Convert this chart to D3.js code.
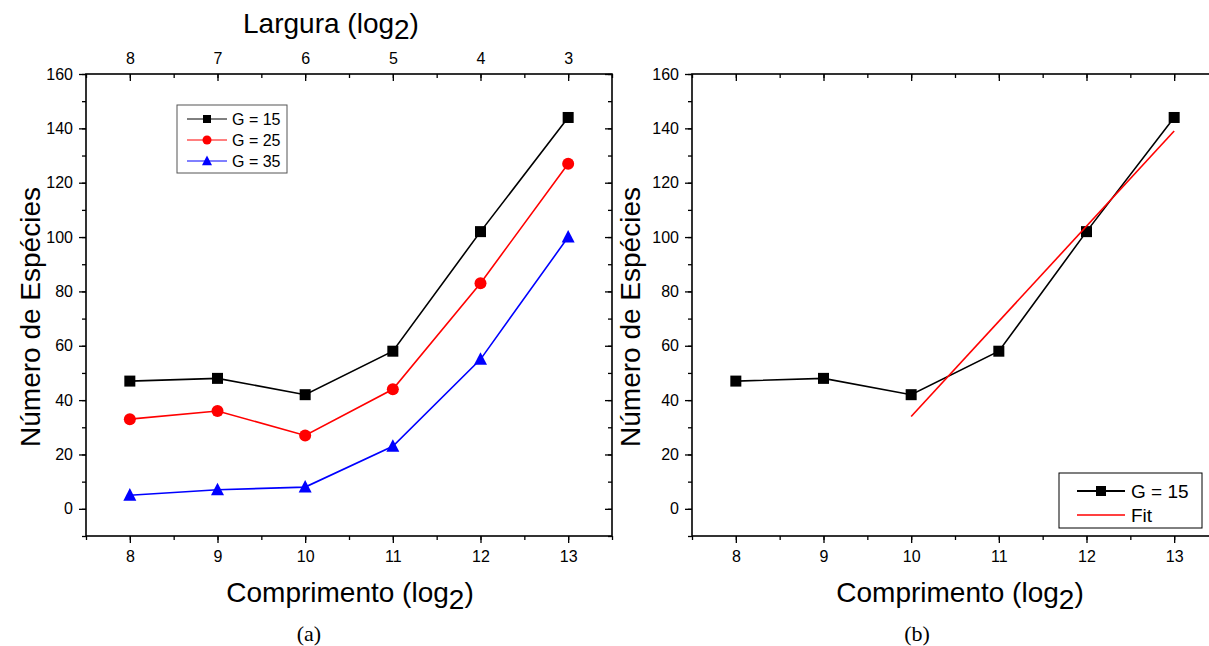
<!DOCTYPE html>
<html>
<head>
<meta charset="utf-8">
<script src="https://cdn.jsdelivr.net/npm/d3@7"></script>
<style>
  body { margin: 0; background: #fff; }
  text { font-family: "Liberation Sans", Arial, sans-serif; fill: #000; }
  .serif { font-family: "Liberation Serif", "Times New Roman", serif; }
</style>
</head>
<body>
<div id="chart"></div>
<script>
// Número de espécies vs comprimento / largura

const WIDTH = 1209
const HEIGHT = 646

const comprimento = [8, 9, 10, 11, 12, 13]
const largura = [8, 7, 6, 5, 4, 3]
const g15 = [47, 48, 42, 58, 102, 144]
const g25 = [33, 36, 27, 44, 83, 127]
const g35 = [5, 7, 8, 23, 55, 100]
const fitX = [10, 13]
const fitY = [34, 139]
const yTicks = [0, 20, 40, 60, 80, 100, 120, 140, 160]

const series = [
  { name: "G = 15", values: g15, color: "#000000", shape: "square" },
  { name: "G = 25", values: g25, color: "#ff0000", shape: "circle" },
  { name: "G = 35", values: g35, color: "#0000ff", shape: "triangle" }
]

const SVG = d3.select("#chart")
  .append("svg")
  .attr("width", WIDTH)
  .attr("height", HEIGHT)

const TOP = 74
const BOT = 536

const yScale = d3.scaleLinear().domain([-10, 160]).range([BOT, TOP])
const xLeft = d3.scaleLinear().domain([7.5, 13.5]).range([86, 612])
const xRight = d3.scaleLinear().domain([7.5, 13.5]).range([692, 1218])

const halfTicks = d3.range(7.5, 13.51, 0.5)
const minorY = d3.range(-10, 161, 10)

function marker(g, shape, color, x, y, size) {
  if (shape == "square") {
    g.append("rect")
      .attr("x", x - size / 2).attr("y", y - size / 2)
      .attr("width", size).attr("height", size)
      .attr("fill", color)
  } else if (shape == "circle") {
    g.append("circle")
      .attr("cx", x).attr("cy", y).attr("r", size / 2 + 0.5)
      .attr("fill", color)
  } else {
    const s = size + 2
    g.append("path")
      .attr("d", `M${x},${y - s * 0.55} L${x + s / 2},${y + s * 0.42} L${x - s / 2},${y + s * 0.42} Z`)
      .attr("fill", color)
  }
}

function drawAxes(g, x, showTopLabels) {
  const [x0, x1] = x.range()

  // baixo: ticks para fora
  g.append("g")
    .attr("transform", `translate(0, ${BOT})`)
    .call(d3.axisBottom(x).tickValues(halfTicks).tickFormat("").tickSizeInner(4).tickSizeOuter(0))
    .call(a => a.select(".domain").remove())
  g.append("g")
    .attr("transform", `translate(0, ${BOT})`)
    .call(d3.axisBottom(x).tickValues(comprimento).tickFormat(d3.format("d")).tickSizeInner(7).tickSizeOuter(0).tickPadding(8))
    .call(a => a.select(".domain").remove())

  // cima: ticks para dentro
  g.append("g")
    .attr("transform", `translate(0, ${TOP})`)
    .call(d3.axisTop(x).tickValues(halfTicks).tickFormat("").tickSizeInner(-4).tickSizeOuter(0))
    .call(a => a.select(".domain").remove())
  const top = g.append("g")
    .attr("transform", `translate(0, ${TOP})`)
    .call(d3.axisTop(x).tickValues(comprimento)
      .tickFormat((d, i) => showTopLabels ? largura[i] : "")
      .tickSizeInner(-7).tickSizeOuter(0).tickPadding(0))
    .call(a => a.select(".domain").remove())
  top.selectAll("text").attr("y", -10)

  // esquerda: para fora
  g.append("g")
    .attr("transform", `translate(${x0}, 0)`)
    .call(d3.axisLeft(yScale).tickValues(minorY).tickFormat("").tickSizeInner(4).tickSizeOuter(0))
    .call(a => a.select(".domain").remove())
  g.append("g")
    .attr("transform", `translate(${x0}, 0)`)
    .call(d3.axisLeft(yScale).tickValues(yTicks).tickSizeInner(7).tickSizeOuter(0).tickPadding(6))
    .call(a => a.select(".domain").remove())

  // direita: para dentro
  g.append("g")
    .attr("transform", `translate(${x1}, 0)`)
    .call(d3.axisRight(yScale).tickValues(minorY).tickFormat("").tickSizeInner(-4).tickSizeOuter(0))
    .call(a => a.select(".domain").remove())
  g.append("g")
    .attr("transform", `translate(${x1}, 0)`)
    .call(d3.axisRight(yScale).tickValues(yTicks).tickFormat("").tickSizeInner(-7).tickSizeOuter(0))
    .call(a => a.select(".domain").remove())

  g.selectAll(".tick line").attr("stroke", "#000").attr("stroke-width", 1.3)
  g.selectAll(".tick text")
    .style("font-size", "16px")
    .style("font-family", "'Liberation Sans', Arial, sans-serif")
    .attr("fill", "#000")

  g.append("rect")
    .attr("x", x0).attr("y", TOP)
    .attr("width", x1 - x0).attr("height", BOT - TOP)
    .attr("fill", "none").attr("stroke", "#000").attr("stroke-width", 1.6)
}

function axisTitles(g, cx, mx, label, lx) {
  const mid = (TOP + BOT) / 2
  g.append("text")
    .attr("transform", `translate(${cx}, ${mid + 12}) rotate(-90)`)
    .attr("text-anchor", "middle")
    .attr("font-size", 28)
    .text("Número de Espécies")
  const t = g.append("text")
    .attr("x", mx).attr("y", 602)
    .attr("text-anchor", "middle")
    .attr("font-size", 28)
  t.append("tspan").text("Comprimento (log")
  t.append("tspan").attr("dy", 7).text("2")
  t.append("tspan").attr("dy", -7).text(")")
  g.append("text")
    .attr("class", "serif")
    .attr("x", lx).attr("y", 641)
    .attr("text-anchor", "middle")
    .attr("font-size", 22)
    .text(label)
}

const line = x => d3.line()
  .x((d, i) => x(comprimento[i]))
  .y(d => yScale(d))

// Painel (a)
const left = SVG.append("g")
drawAxes(left, xLeft, true)
axisTitles(left, 40, 350, "(a)", 309)

const topTitle = left.append("text")
  .attr("x", 331).attr("y", 33)
  .attr("text-anchor", "middle")
  .attr("font-size", 28)
topTitle.append("tspan").text("Largura (log")
topTitle.append("tspan").attr("dy", 6).text("2")
topTitle.append("tspan").attr("dy", -6).text(")")

series.forEach(s => {
  const g = left.append("g")
  g.append("path")
    .attr("d", line(xLeft)(s.values))
    .attr("fill", "none")
    .attr("stroke", s.color)
    .attr("stroke-width", 1.6)
  s.values.forEach((v, i) => marker(g, s.shape, s.color, xLeft(comprimento[i]), yScale(v), 11))
})

// legenda (a)
const legA = left.append("g")
legA.append("rect")
  .attr("x", 177).attr("y", 105).attr("width", 110).attr("height", 68)
  .attr("fill", "#fff").attr("stroke", "#555").attr("stroke-width", 1)
series.forEach((s, i) => {
  const y = 119 + 21 * i
  legA.append("line")
    .attr("x1", 187).attr("x2", 227).attr("y1", y).attr("y2", y)
    .attr("stroke", s.color).attr("stroke-width", 1)
  marker(legA, s.shape, s.color, 207, y, 8)
  legA.append("text")
    .attr("x", 232).attr("y", y + 6)
    .attr("font-size", 16)
    .text(s.name)
})

// Painel (b)
const right = SVG.append("g")
drawAxes(right, xRight, false)
axisTitles(right, 640, 960, "(b)", 917)

const gb = right.append("g")
gb.append("path")
  .attr("d", line(xRight)(g15))
  .attr("fill", "none")
  .attr("stroke", "#000")
  .attr("stroke-width", 1.6)
g15.forEach((v, i) => marker(gb, "square", "#000", xRight(comprimento[i]), yScale(v), 11))

gb.append("line")
  .attr("x1", xRight(fitX[0])).attr("y1", yScale(fitY[0]))
  .attr("x2", xRight(fitX[1])).attr("y2", yScale(fitY[1]))
  .attr("stroke", "#ff0000")
  .attr("stroke-width", 1.6)

// legenda (b)
const legB = right.append("g")
legB.append("rect")
  .attr("x", 1059).attr("y", 473).attr("width", 143).attr("height", 55)
  .attr("fill", "#fff").attr("stroke", "#000").attr("stroke-width", 1)
legB.append("line")
  .attr("x1", 1077).attr("x2", 1125).attr("y1", 491).attr("y2", 491)
  .attr("stroke", "#000").attr("stroke-width", 2)
marker(legB, "square", "#000", 1101, 491, 10)
legB.append("text").attr("x", 1131).attr("y", 498).attr("font-size", 19).text("G = 15")
legB.append("line")
  .attr("x1", 1077).attr("x2", 1125).attr("y1", 515).attr("y2", 515)
  .attr("stroke", "#ff0000").attr("stroke-width", 1.5)
legB.append("text").attr("x", 1131).attr("y", 522).attr("font-size", 19).text("Fit")
</script>
</body>
</html>
